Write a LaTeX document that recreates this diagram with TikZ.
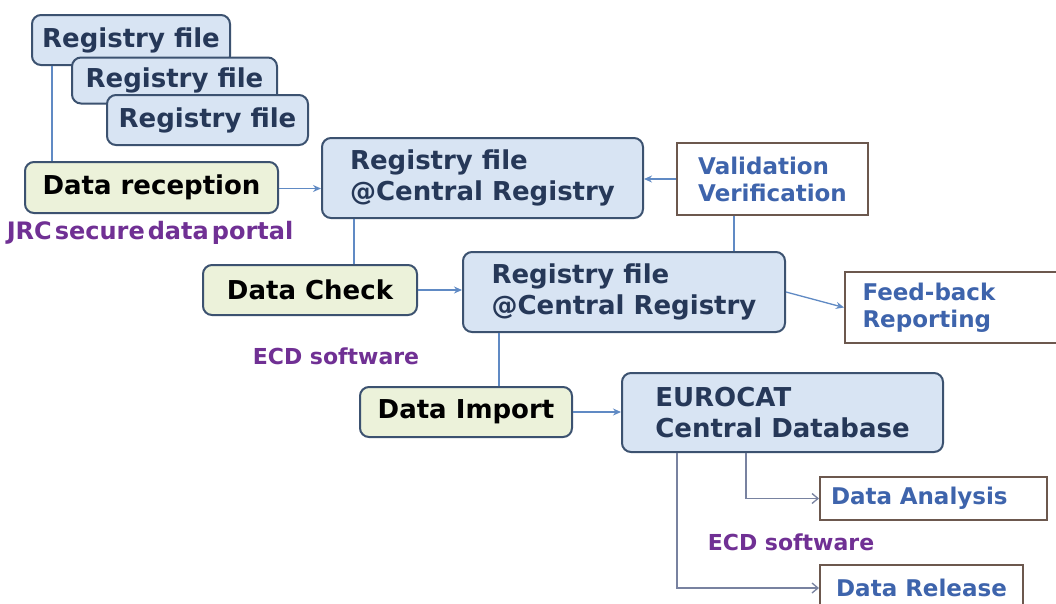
\documentclass[tikz,border=0pt]{standalone}
\usepackage{fontspec}
\setmainfont{DejaVu Sans}
\usetikzlibrary{arrows.meta}

\definecolor{fileblue}{RGB}{216,228,243}
\definecolor{checkgreen}{RGB}{236,242,218}
\definecolor{boxline}{RGB}{60,82,112}
\definecolor{filetext}{RGB}{38,56,88}
\definecolor{outline}{RGB}{108,88,78}
\definecolor{outtext}{RGB}{62,100,172}
\definecolor{notepurple}{RGB}{112,48,148}
\definecolor{linkblue}{RGB}{96,138,196}
\definecolor{linkgray}{RGB}{120,130,160}

\tikzset{
  filebox/.style={draw=boxline, line width=2pt, rounded corners=9pt, fill=fileblue,
    text=filetext, font=\fontsize{26}{31}\selectfont\bfseries, inner sep=0pt, align=left},
  stepbox/.style={filebox, fill=checkgreen, text=black},
  outbox/.style={draw=outline, line width=2pt, fill=white, text=outtext,
    font=\fontsize{23}{27}\selectfont\bfseries, inner sep=0pt, align=left},
  toolnote/.style={text=notepurple, font=\fontsize{22}{26}\selectfont\bfseries},
  link/.style={draw=linkblue, line width=1.3pt},
  flow/.style={link, -{Stealth[length=8pt,width=7pt]}},
  hand/.style={draw=linkgray, line width=1.3pt, -{Straight Barb[length=6pt,width=10pt]}}
}

\begin{document}
\begin{tikzpicture}[x=1pt, y=-1pt]
  \clip (0,0) rectangle (1056,603);
  \fill[white] (0,0) rectangle (1056,603);

  % incoming files
  \node[filebox, minimum width=198, minimum height=50] (reg1) at (131,40) {Registry file};
  \node[filebox, minimum width=205, minimum height=46] (reg2) at (174.5,80.5) {Registry file};
  \node[filebox, minimum width=201, minimum height=50] (reg3) at (207.5,120) {Registry file};

  \node[stepbox, minimum width=253, minimum height=51] (recep) at (151.5,187.5) {Data reception};
  \node[toolnote, font=\fontsize{24}{28}\selectfont\bfseries] (portal) at (150,233)
    {JRC\hspace{3pt}secure\hspace{3pt}data\hspace{3pt}portal};

  \node[filebox, minimum width=321, minimum height=80] (cent1) at (482.5,178)
    {Registry file\\@Central Registry};
  \node[outbox, minimum width=191, minimum height=72] (valid) at (772.5,179)
    {Validation\\Verification};

  \node[stepbox, minimum width=214, minimum height=50] (check) at (310,290) {Data Check};
  \node[filebox, minimum width=322, minimum height=80] (cent2) at (624,292)
    {Registry file\\@Central Registry};
  \node[outbox, minimum width=225, minimum height=71, text width=190] (feed) at (957.5,307.5)
    {Feed-back\\Reporting};
  \node[toolnote] (ecd1) at (336,356) {ECD software};

  \node[stepbox, minimum width=212, minimum height=50] (import) at (466,412) {Data Import};
  \node[filebox, minimum width=321, minimum height=79] (euro) at (782.5,412.5)
    {EUROCAT\\Central Database};

  \node[outbox, minimum width=227, minimum height=43, text width=205] (analysis) at (933.5,498.5)
    {Data Analysis};
  \node[toolnote] (ecd2) at (791,542) {ECD software};
  \node[outbox, minimum width=203, minimum height=46] (release) at (921.5,588)
    {Data Release};

  % connectors
  \draw[link] ([xshift=28]recep.north west) -- ([xshift=28]recep.north west |- reg1.south);
  \draw[flow] ([yshift=-1]recep.east) -- ([yshift=-1]recep.east -| cent1.west);
  \draw[flow] (valid.west) -- (valid.west -| cent1.east);
  \draw[link] ([xshift=33]cent1.south west) -- ([xshift=33]cent1.south west |- check.north);
  \draw[flow] (check.east) -- (check.east -| cent2.west);
  \draw[link] ([xshift=58]valid.south west) -- ([xshift=58]valid.south west |- cent2.north);
  \draw[flow] (cent2.east) -- (feed.west);
  \draw[link] ([xshift=140]import.north west) -- ([xshift=140]import.north west |- cent2.south);
  \draw[flow] (import.east) -- (import.east -| euro.west);
  \draw[hand] ([xshift=125]euro.south west) |- (analysis.west);
  \draw[hand] ([xshift=56]euro.south west) |- (release.west);
\end{tikzpicture}
\end{document}
